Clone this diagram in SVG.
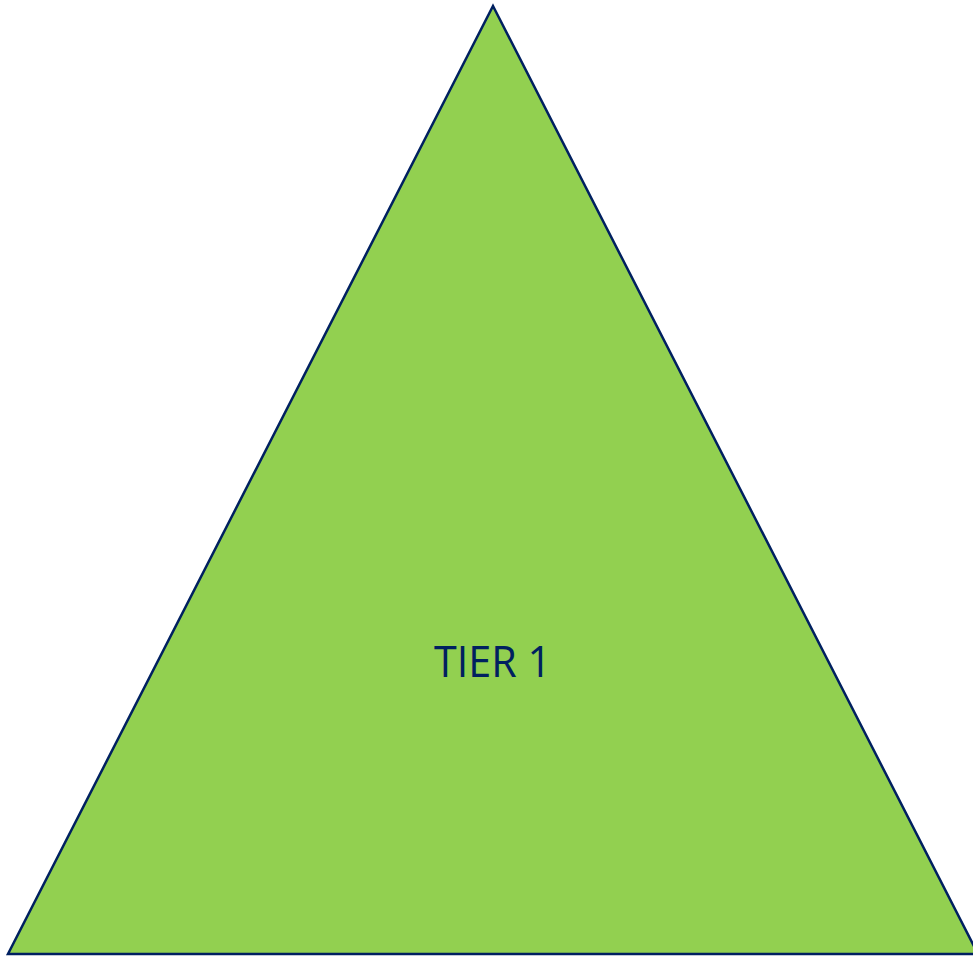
<svg xmlns="http://www.w3.org/2000/svg" width="973" height="956" viewBox="0 0 973 956">
  <style>
    .tier { fill: #92D050; stroke: #002060; stroke-width: 2.5; stroke-linejoin: miter; }
    .label { font-family: "Open Sans", "Liberation Sans", sans-serif; font-size: 43px; fill: #002060; text-anchor: middle; }
  </style>
  <rect width="973" height="956" fill="#ffffff"/>
  <g id="tier1">
    <polygon class="tier" points="493,6 978,954 8,954"/>
    <text class="label" x="492.5" y="677" textLength="117" lengthAdjust="spacingAndGlyphs">TIER 1</text>
  </g>
</svg>
